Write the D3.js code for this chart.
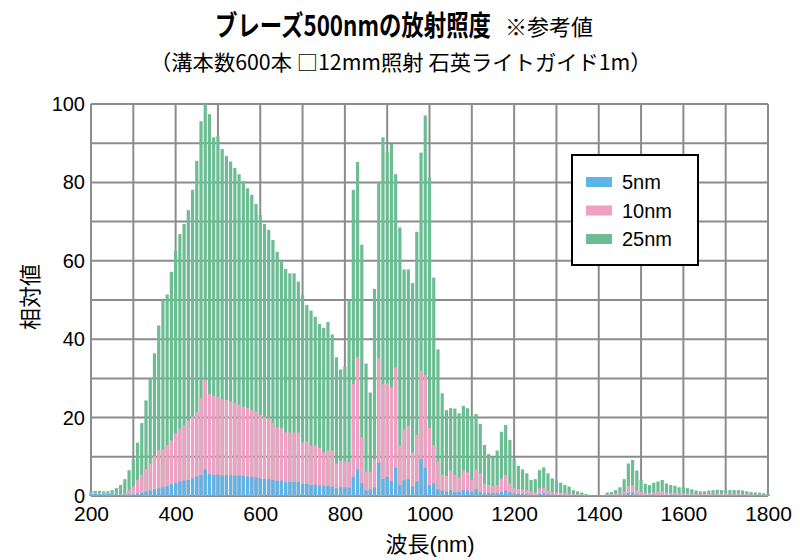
<!DOCTYPE html>
<html><head><meta charset="utf-8">
<script src="https://cdn.jsdelivr.net/npm/d3@7"></script>
<style>
body{margin:0;background:#fff;}
svg{display:block;font-family:"Liberation Sans","Noto Sans CJK JP",sans-serif;}
</style></head>
<body><svg id="c" width="800" height="560"></svg>
<script>
const wavelengths = d3.range(200, 1801, 10);
const seriesNames = ["5nm", "10nm", "25nm"];
const seriesColors = ["#5db4e6", "#f29fc4", "#6cbd93"];
const xTicks = [200,400,600,800,1000,1200,1400,1600,1800];
const yTicks = [0,20,40,60,80,100];

const green25 = [1.3,1.3,1.3,1.2,1.2,1.5,2.0,2.8,4.3,6.6,
 9.3,13.6,18.6,24.4,30,36.4,43.5,50,51.4,57.2,
 62.5,66.8,69.4,72.9,78.1,85.5,95.6,100,97.4,91.5,
 91.8,88.5,86.7,85.3,83.7,82.1,80.3,78.5,76.8,74.5,
 71.7,69.4,67.9,65.3,62.3,59.7,57.9,56.8,56.8,54.7,
 51.3,48.7,47.3,45.7,43.9,42.9,44.4,41.2,35.4,32.3,
 33,49.9,78.1,85.2,64.1,33.8,26.4,52.8,80.2,91.5,
 87.8,89.8,82.1,68.5,57.8,57.8,54.3,67.4,87.6,97.1,
 81.1,55.7,37.4,26.2,21.9,22.4,22.3,21.1,23,22.4,
 20.4,20.9,18.4,13,10.7,9.9,11.6,16.4,18.1,14.3,
 9.5,7.7,6.8,5.8,4.1,4.3,6.6,7.3,5.8,4.5,
 3.9,3.4,2.8,2.4,1.5,1.2,0.9,0.5,0.2,0.1,
 0.1,0.3,0.9,1.0,1.5,2.2,4.3,8.3,9.2,6.5,
 4.1,3.1,2.8,3.4,3.7,4.1,3.2,2.8,2.6,2.2,
 2.2,2.0,1.7,1.4,1.2,1.2,1.4,1.5,1.6,1.5,
 1.5,1.5,1.5,1.5,1.4,1.2,1.0,0.9,0.85,0.7,
 0.5];
const pink10 = [0.8,0.8,0.8,0.8,0.7,0.7,0.6,0.5,0.7,1.4,
 2.4,4,5.4,6.9,8.3,10.2,11.7,11.9,13,14.1,
 16,17.1,18.1,19.2,20.3,21.5,25,29.6,26,25.5,
 25.3,24.7,24.5,24.1,23.8,23.3,22.8,22.4,22,21.5,
 20.7,20.1,19.8,18.7,17.5,17.3,16.2,16.2,16.2,16.2,
 13.7,13.9,12.8,12.9,12.2,11.1,11.6,11.5,8.3,9.0,
 8.9,8.7,28.6,35.5,15,6.2,6.2,9.4,35.1,28.5,
 28.7,27.7,32.8,13,17,17.9,11.1,15.6,31.9,30.9,
 17.4,13,8.8,5.4,5.1,6.5,5.4,4.7,6.5,6,
 4.1,6.8,5.8,3.1,2.8,2.6,2.8,4.4,5.4,3.2,
 2.0,1.8,1.7,1.5,1.1,0.9,1.9,2.1,1.3,1.1,
 0.9,0.8,0.7,0.6,0.5,0.4,0.3,0.2,0.1,0.05,
 0.05,0.1,0.3,0.4,0.5,0.6,1.1,2.6,2.8,1.5,
 1.1,0.8,0.8,0.9,1.1,1.2,0.9,0.8,0.8,0.7,
 0.7,0.7,0.6,0.6,0.5,0.5,0.6,0.6,0.6,0.6,
 0.6,0.6,0.6,0.6,0.5,0.5,0.4,0.4,0.4,0.3,
 0.3];
const blue5 = [0.5,0.5,0.5,0.5,0.5,0.5,0.5,0.4,0.4,0.4,
 0.4,0.6,0.8,1.1,1.4,1.7,2.0,2.2,2.5,3.0,
 3.4,3.7,3.9,4.1,4.5,5.0,5.3,6.8,5.6,5.4,
 5.4,5.3,5.3,5.3,5.2,5.2,5.1,5.0,4.9,4.7,
 4.5,4.3,4.3,4.1,3.9,3.9,3.6,3.6,3.6,3.6,
 3.1,3.1,2.8,2.9,2.7,2.6,2.6,2.4,2.0,2.2,
 2.2,2.1,4.9,6.8,3.2,1.4,1.7,2.2,8.5,4.3,
 4.9,3.8,7.2,2.8,4.1,4.3,2.4,3.7,9.4,7.2,
 2.8,3.2,1.7,1.4,1.1,1.5,1.0,1.0,1.5,1.4,
 1.0,1.7,1.0,0.7,0.7,0.7,0.7,1.0,1.4,0.9,
 0.6,0.5,0.5,0.4,0.3,0.3,0.5,0.6,0.4,0.3,
 0.3,0.3,0.3,0.2,0.2,0.2,0.2,0.1,0.1,0.05,
 0.05,0.1,0.2,0.2,0.2,0.3,0.4,0.7,0.9,0.4,
 0.3,0.3,0.3,0.3,0.3,0.3,0.3,0.3,0.3,0.3,
 0.3,0.3,0.3,0.3,0.3,0.3,0.3,0.3,0.3,0.3,
 0.3,0.3,0.3,0.3,0.3,0.3,0.3,0.3,0.3,0.3,
 0.3];

const svg = d3.select("#c");
const L = 91, R = 768, T = 104, B = 496;
const x = d3.scaleLinear().domain([200,1800]).range([L,R]);
const y = d3.scaleLinear().domain([0,100]).range([B,T]);
const gridColor = "#8c8c8c";

// grid
const g = svg.append("g");
g.selectAll(".hg").data(d3.range(0,101,10)).join("line")
  .attr("x1",L).attr("x2",R).attr("y1",d=>y(d)).attr("y2",d=>y(d))
  .attr("stroke",gridColor).attr("stroke-width",2);
g.selectAll(".vg").data(d3.range(200,1801,100)).join("line")
  .attr("x1",d=>x(d)).attr("x2",d=>x(d)).attr("y1",T).attr("y2",B)
  .attr("stroke",gridColor).attr("stroke-width",2);

// bars
const bw = 3.2;
const allSeries = [green25, pink10, blue5];
const colorsDraw = [seriesColors[2], seriesColors[1], seriesColors[0]];
allSeries.forEach((vals, i) => {
  svg.append("g").selectAll("rect").data(wavelengths).join("rect")
    .attr("x", (d)=>x(d)-bw/2)
    .attr("width", bw)
    .attr("y", (d,j)=>y(vals[j]))
    .attr("height", (d,j)=>B - y(vals[j]))
    .attr("fill", colorsDraw[i]);
});

// axes labels
const yAxis = d3.axisLeft(y).tickValues(yTicks).tickSize(0).tickPadding(6);
const ya = svg.append("g").attr("transform",`translate(${L},0)`).call(yAxis);
ya.select(".domain").remove();
ya.selectAll("text").attr("font-size",20).attr("fill","#000").attr("font-family",null);

const xAxis = d3.axisBottom(x).tickValues(xTicks).tickFormat(d3.format("d")).tickSize(0).tickPadding(10);
const xa = svg.append("g").attr("transform",`translate(0,${B})`).call(xAxis);
xa.select(".domain").remove();
xa.selectAll("text").attr("font-size",21).attr("fill","#000").attr("font-family",null);

// axis titles
svg.append("text").attr("x",430).attr("y",552).attr("text-anchor","middle")
  .attr("font-size",22).text("波長(nm)");
svg.append("text").attr("transform","translate(38,297) rotate(-90)")
  .attr("text-anchor","middle").attr("font-size",22).text("相対値");

// title (condensed via horizontal scale)
const cjk = "'Noto Sans CJK JP',sans-serif";
const t1 = svg.append("text").attr("font-family",cjk).attr("font-size",28).attr("font-weight","bold")
  .text("ブレーズ500nmの放射照度");
const w1 = t1.node().getComputedTextLength();
t1.attr("transform",`translate(215,36) scale(${276/w1},1)`);
svg.append("text").attr("x",505).attr("y",35).attr("font-family",cjk).attr("font-size",22)
  .text("※参考値");
const t2 = svg.append("text").attr("font-family",cjk).attr("font-size",21)
  .text("（溝本数600本 □12mm照射 石英ライトガイド1m）");
const w2 = t2.node().getComputedTextLength();
t2.attr("transform",`translate(150,70) scale(${502/w2},1)`);

// legend
const lg = svg.append("g");
lg.append("rect").attr("x",572).attr("y",155).attr("width",126).attr("height",110)
  .attr("fill","#fff").attr("stroke","#000").attr("stroke-width",2);
seriesNames.forEach((n,i)=>{
  const cy = 182 + i*28.5;
  lg.append("rect").attr("x",586).attr("y",cy-5).attr("width",26).attr("height",10).attr("fill",seriesColors[i]);
  lg.append("text").attr("x",622).attr("y",cy).attr("dominant-baseline","central")
    .attr("font-size",20).text(n);
});
</script></body></html>
